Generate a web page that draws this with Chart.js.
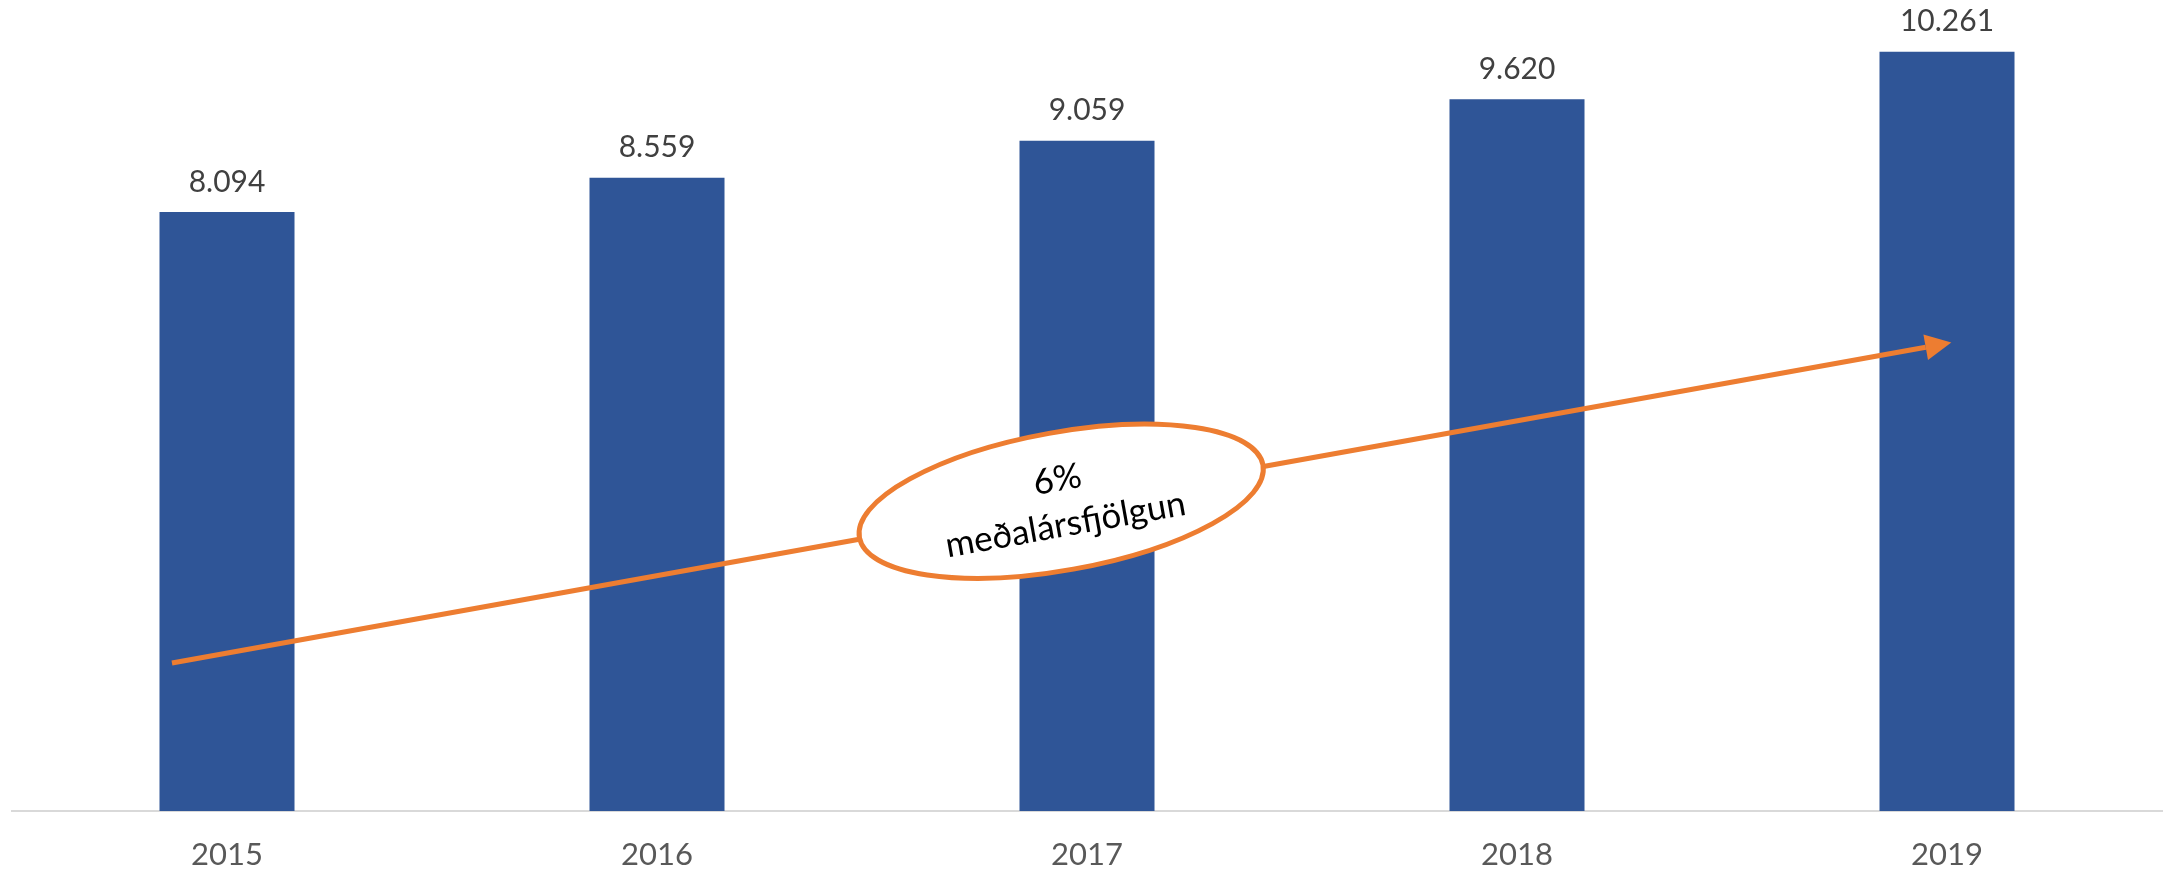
<!DOCTYPE html>
<html>
<head>
<meta charset="utf-8">
<script src="https://cdn.jsdelivr.net/npm/chart.js@4"></script>
<style>
html,body{margin:0;padding:0;background:#fff;}
#wrap{width:2163px;height:870px;}
</style>
</head>
<body>
<div id="wrap"><canvas id="c" width="2163" height="870"></canvas></div>
<script>
const categories = ['2015', '2016', '2017', '2018', '2019'];
const values = [8094, 8559, 9059, 9620, 10261];
const valueLabels = ['8.094', '8.559', '9.059', '9.620', '10.261'];
// trend arrow annotation in data coordinates [category index, value]
const trendStart = [-0.128, 2000];
const trendEnd = [4.01, 6330];
const calloutCenter = [1.94, 4186];
const calloutLines = ['6%', 'meðalársfjölgun'];

const FONT = 'Lato, "Open Sans", sans-serif';
const ORANGE = '#ED7D31';

const overlay = {
  id: 'overlay',
  afterDatasetsDraw(chart) {
    const ctx = chart.ctx;
    const xs = chart.scales.x, ys = chart.scales.y;
    const meta = chart.getDatasetMeta(0);
    ctx.save();
    ctx.font = '30px ' + FONT;
    ctx.fillStyle = '#404040';
    ctx.textAlign = 'center';
    ctx.textBaseline = 'middle';
    meta.data.forEach((bar, i) => {
      ctx.fillText(valueLabels[i], bar.x, bar.y - 30);
    });
    ctx.restore();

    const x1 = xs.getPixelForValue(trendStart[0]), y1 = ys.getPixelForValue(trendStart[1]);
    const x2 = xs.getPixelForValue(trendEnd[0]), y2 = ys.getPixelForValue(trendEnd[1]);
    const ang = Math.atan2(y2 - y1, x2 - x1);
    const headLen = 26, headHalf = 13;
    const bx = x2 - headLen * Math.cos(ang), by = y2 - headLen * Math.sin(ang);
    ctx.save();
    ctx.strokeStyle = ORANGE;
    ctx.fillStyle = ORANGE;
    ctx.lineWidth = 5;
    ctx.beginPath();
    ctx.moveTo(x1, y1);
    ctx.lineTo(bx, by);
    ctx.stroke();
    ctx.beginPath();
    ctx.moveTo(x2, y2);
    ctx.lineTo(bx + headHalf * Math.sin(ang), by - headHalf * Math.cos(ang));
    ctx.lineTo(bx - headHalf * Math.sin(ang), by + headHalf * Math.cos(ang));
    ctx.closePath();
    ctx.fill();
    ctx.restore();

    const cx = xs.getPixelForValue(calloutCenter[0]), cy = ys.getPixelForValue(calloutCenter[1]);
    ctx.save();
    ctx.translate(cx, cy);
    ctx.rotate(ang);
    ctx.beginPath();
    ctx.ellipse(0, 0, 205, 69, 0, 0, Math.PI * 2);
    ctx.fillStyle = '#ffffff';
    ctx.fill();
    ctx.lineWidth = 5;
    ctx.strokeStyle = ORANGE;
    ctx.stroke();
    ctx.fillStyle = '#000000';
    ctx.font = '35px ' + FONT;
    ctx.textAlign = 'center';
    ctx.textBaseline = 'middle';
    ctx.fillText(calloutLines[0], 0, -22);
    ctx.fillText(calloutLines[1], 0, 24);
    ctx.restore();
  }
};

new Chart(document.getElementById('c'), {
  type: 'bar',
  data: {
    labels: categories,
    datasets: [{
      data: values,
      backgroundColor: '#2F5597',
      borderWidth: 0,
      barPercentage: 0.314,
      categoryPercentage: 1.0
    }]
  },
  options: {
    responsive: false,
    animation: false,
    events: [],
    layout: { padding: { left: 12, right: 1, top: 0, bottom: -28 } },
    plugins: { legend: { display: false }, tooltip: { enabled: false } },
    scales: {
      x: {
        grid: { display: false, drawTicks: false },
        border: { display: true, color: '#D9D9D9', width: 2 },
        ticks: { color: '#595959', font: { family: FONT, size: 31, lineHeight: 1 }, padding: 28 }
      },
      y: {
        display: false,
        min: 0,
        max: 10960
      }
    }
  },
  plugins: [overlay]
});
</script>
</body>
</html>
